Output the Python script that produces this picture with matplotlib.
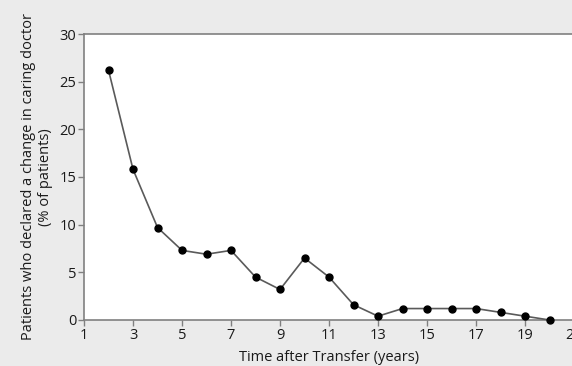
import matplotlib
matplotlib.use("Agg")
import matplotlib.pyplot as plt

years = [2, 3, 4, 5, 6, 7, 8, 9, 10, 11, 12, 13, 14, 15, 16, 17, 18, 19, 20]
pct = [26.2, 15.8, 9.7, 7.3, 6.9, 7.3, 4.5, 3.2, 6.5, 4.5, 1.6, 0.4,
       1.2, 1.2, 1.2, 1.2, 0.8, 0.4, 0.0]
xticks = [1, 3, 5, 7, 9, 11, 13, 15, 17, 19, 21]
yticks = [0, 5, 10, 15, 20, 25, 30]

plt.rcParams['font.family'] = ['Open Sans', 'DejaVu Sans']

fig = plt.figure(figsize=(5.72, 3.66), dpi=100, facecolor='#ebebeb')
ax = fig.add_axes([0.1469, 0.1257, 0.8566, 0.7814])
ax.set_facecolor('white')

ax.plot(years, pct, color='#5a5a5a', lw=1.2, marker='o', markersize=5,
        markerfacecolor='black', markeredgecolor='black', clip_on=False, zorder=3)

ax.set_xlim(1, 21)
ax.set_ylim(0, 30)
ax.set_xticks(xticks)
ax.set_yticks(yticks)

for s in ['left', 'bottom', 'top']:
    ax.spines[s].set_color('#808080')
    ax.spines[s].set_linewidth(1.2)
ax.spines['right'].set_visible(False)
ax.tick_params(direction='out', length=4, width=1, color='#808080',
               labelsize=10.5, labelcolor='#1a1a1a', pad=1.5)

ax.set_xlabel('Time after Transfer (years)', fontsize=10.5, color='#1a1a1a', labelpad=5)
ax.set_ylabel('Patients who declared a change in caring doctor\n(% of patients)',
              fontsize=10.5, color='#1a1a1a', labelpad=5, linespacing=1.15)

fig.savefig('out.png', dpi=100, facecolor=fig.get_facecolor())
